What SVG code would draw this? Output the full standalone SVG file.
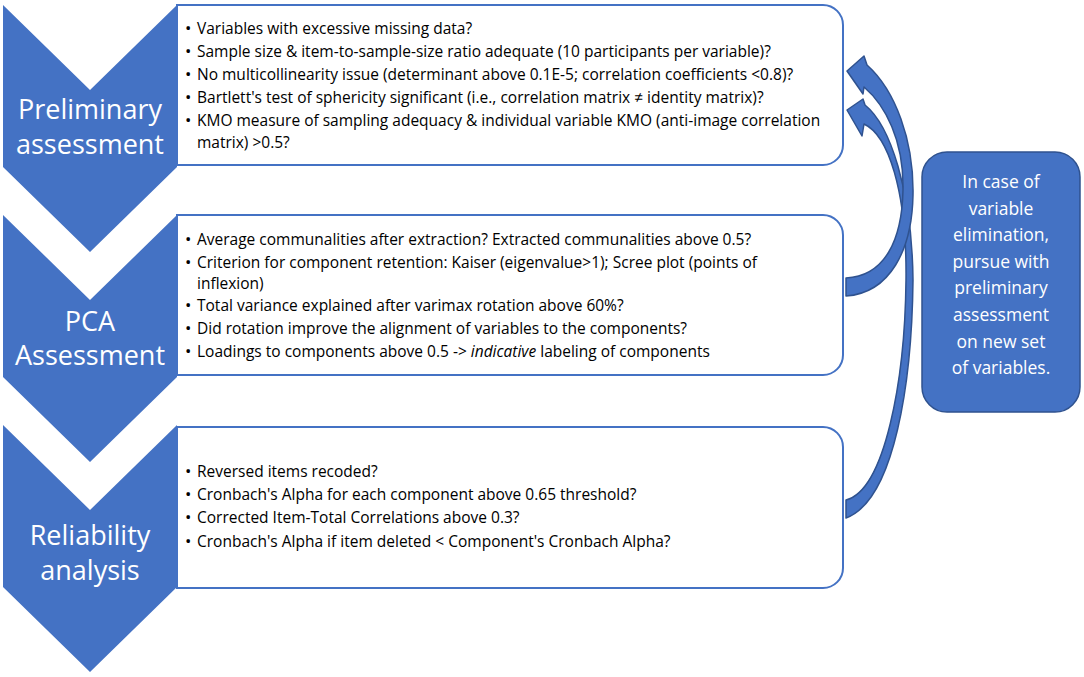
<svg xmlns="http://www.w3.org/2000/svg" width="1084" height="677" viewBox="0 0 1084 677">
<style>
.chev{fill:#4472C4;}
.box{fill:#FFFFFF;stroke:#4472C4;stroke-width:2;}
.ct{font-family:"Open Sans","Noto Sans",sans-serif;font-size:27px;fill:#FFFFFF;text-anchor:middle;}
.bt{font-family:"Open Sans","Noto Sans",sans-serif;font-size:15.5px;fill:#000000;}
.bu{font-size:17px;}
.arr{fill:#4472C4;stroke:#2F528F;stroke-width:1.5;stroke-linejoin:round;}
.note{fill:#4472C4;stroke:#2F528F;stroke-width:1.5;}
.nt{font-family:"Open Sans","Noto Sans",sans-serif;font-size:17.5px;fill:#FFFFFF;text-anchor:middle;}
</style>
<rect width="1084" height="677" fill="#FFFFFF"/>

<g id="step1">
<path class="box" d="M177 5 H823 A20 20 0 0 1 843 25 V145 A20 20 0 0 1 823 165 H177 Z"/>
<polygon class="chev" points="3,5 90,90 177,5 177,167 90,252 3,167"/>
<text class="ct" x="90" y="119">Preliminary</text>
<text class="ct" x="90" y="154">assessment</text>
<g class="bt">
<text class="bu" x="185" y="34">•</text><text x="197" y="34">Variables with excessive missing data?</text>
<text class="bu" x="185" y="57">•</text><text x="197" y="57">Sample size &amp; item-to-sample-size ratio adequate (10 participants per variable)?</text>
<text class="bu" x="185" y="80">•</text><text x="197" y="80">No multicollinearity issue (determinant above 0.1E-5; correlation coefficients &lt;0.8)?</text>
<text class="bu" x="185" y="103">•</text><text x="197" y="103">Bartlett's test of sphericity significant (i.e., correlation matrix ≠ identity matrix)?</text>
<text class="bu" x="185" y="126">•</text><text x="197" y="126">KMO measure of sampling adequacy &amp; individual variable KMO (anti-image correlation</text>
<text x="197" y="148">matrix) &gt;0.5?</text>
</g>
</g>

<g id="step2">
<path class="box" d="M177 215 H823 A20 20 0 0 1 843 235 V355 A20 20 0 0 1 823 375 H177 Z"/>
<polygon class="chev" points="3,215 90,300 177,215 177,377 90,462 3,377"/>
<text class="ct" x="90" y="331">PCA</text>
<text class="ct" x="90" y="365">Assessment</text>
<g class="bt">
<text class="bu" x="185" y="245">•</text><text x="197" y="245">Average communalities after extraction? Extracted communalities above 0.5?</text>
<text class="bu" x="185" y="268">•</text><text x="197" y="268">Criterion for component retention: Kaiser (eigenvalue&gt;1); Scree plot (points of</text>
<text x="197" y="289">inflexion)</text>
<text class="bu" x="185" y="311">•</text><text x="197" y="311">Total variance explained after varimax rotation above 60%?</text>
<text class="bu" x="185" y="334">•</text><text x="197" y="334">Did rotation improve the alignment of variables to the components?</text>
<text class="bu" x="185" y="357">•</text><text x="197" y="357">Loadings to components above 0.5 -&gt; <tspan font-style="italic">indicative</tspan> labeling of components</text>
</g>
</g>

<g id="step3">
<path class="box" d="M177 427 H823 A20 20 0 0 1 843 447 V568 A20 20 0 0 1 823 588 H177 Z"/>
<polygon class="chev" points="3,425 90,510 177,425 177,587 90,672 3,587"/>
<text class="ct" x="90" y="545">Reliability</text>
<text class="ct" x="90" y="580">analysis</text>
<g class="bt">
<text class="bu" x="185" y="477">•</text><text x="197" y="477">Reversed items recoded?</text>
<text class="bu" x="185" y="500">•</text><text x="197" y="500">Cronbach's Alpha for each component above 0.65 threshold?</text>
<text class="bu" x="185" y="523">•</text><text x="197" y="523">Corrected Item-Total Correlations above 0.3?</text>
<text class="bu" x="185" y="547">•</text><text x="197" y="547">Cronbach's Alpha if item deleted &lt; Component's Cronbach Alpha?</text>
</g>
</g>

<g id="note">
<rect class="note" x="922" y="152" width="158" height="260" rx="25" ry="25"/>
<text class="nt" x="1001" y="188">In case of</text>
<text class="nt" x="1001" y="214.6">variable</text>
<text class="nt" x="1001" y="241.2">elimination,</text>
<text class="nt" x="1001" y="267.8">pursue with</text>
<text class="nt" x="1001" y="294.4">preliminary</text>
<text class="nt" x="1001" y="321">assessment</text>
<text class="nt" x="1001" y="347.6">on new set</text>
<text class="nt" x="1001" y="374.2">of variables.</text>
</g>

<g id="connectors">
<path class="arr" d="M847 110 L863 99 L865 105 C890 125 912 190 913 280 C912 380 895 500 846 518 L846 500 C885 490 905 380 906 280 C907 190 888 135 864 124 L862 136 Z"/>
<path class="arr" d="M847 71 L864 56 L867 65 C895 90 914 140 913 195 C912 250 890 293 846 296 L846 278 C885 276 902 240 903 190 C904 140 885 105 864 87 L863 94 Z"/>
</g>
</svg>
